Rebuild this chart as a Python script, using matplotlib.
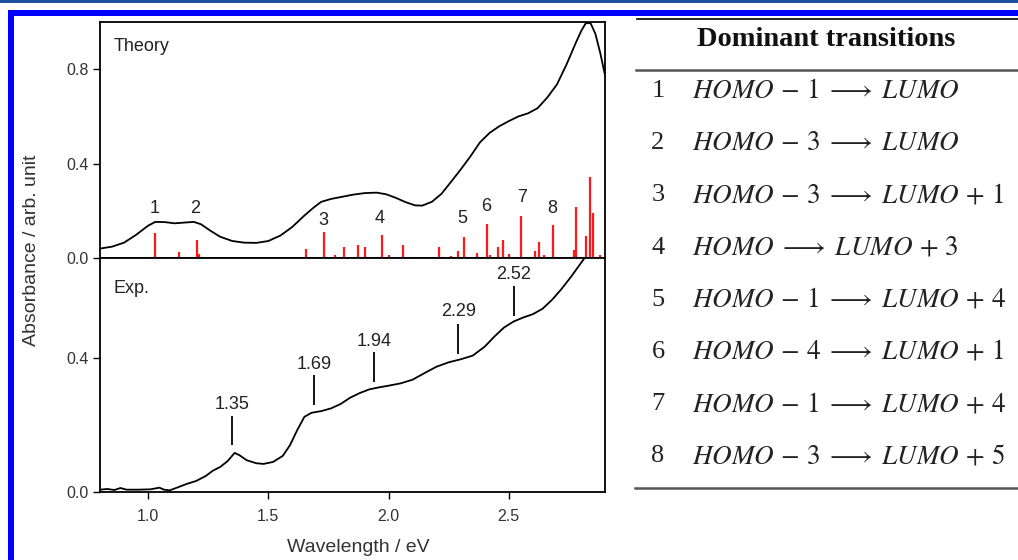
import matplotlib
matplotlib.use("Agg")
import matplotlib.pyplot as plt
from matplotlib.patches import Rectangle
from matplotlib.lines import Line2D

plt.rcParams['font.family'] = ['Liberation Sans', 'DejaVu Sans']
plt.rcParams['mathtext.fontset'] = 'stix'

# ---------------- data ----------------
theory_x = [0.80, 0.85, 0.90, 0.95, 1.00, 1.03, 1.07, 1.11, 1.15, 1.19, 1.22, 1.26, 1.30, 1.35,
            1.40, 1.45, 1.50, 1.55, 1.60, 1.65, 1.69, 1.72, 1.76, 1.80, 1.85, 1.90, 1.95, 1.99,
            2.03, 2.07, 2.11, 2.14, 2.18, 2.22, 2.26, 2.30, 2.34, 2.38, 2.42, 2.46, 2.50, 2.54,
            2.58, 2.62, 2.66, 2.70, 2.74, 2.78, 2.80, 2.82, 2.84, 2.86, 2.88, 2.90]
theory_y = [0.040, 0.048, 0.065, 0.098, 0.137, 0.153, 0.152, 0.147, 0.150, 0.153, 0.143, 0.115,
            0.090, 0.072, 0.065, 0.064, 0.072, 0.095, 0.132, 0.180, 0.215, 0.238, 0.250, 0.258,
            0.268, 0.275, 0.277, 0.270, 0.255, 0.237, 0.223, 0.222, 0.238, 0.272, 0.323, 0.375,
            0.430, 0.490, 0.530, 0.558, 0.580, 0.600, 0.613, 0.635, 0.680, 0.735, 0.820, 0.915,
            0.960, 0.995, 0.995, 0.950, 0.870, 0.775]

stick_x = [1.029, 1.128, 1.202, 1.213, 1.657, 1.733, 1.777, 1.815, 1.872, 1.902, 1.974, 2.002,
           2.061, 2.210, 2.258, 2.289, 2.315, 2.369, 2.410, 2.422, 2.454, 2.477, 2.502, 2.551,
           2.609, 2.627, 2.646, 2.682, 2.771, 2.778, 2.820, 2.839, 2.851, 2.879]
stick_y = [0.108, 0.024, 0.077, 0.017, 0.037, 0.109, 0.011, 0.048, 0.055, 0.045, 0.099, 0.013,
           0.057, 0.045, 0.009, 0.028, 0.089, 0.020, 0.145, 0.011, 0.048, 0.075, 0.017, 0.180,
           0.030, 0.068, 0.013, 0.140, 0.033, 0.218, 0.092, 0.343, 0.190, 0.012]

peak_labels = ['1', '2', '3', '4', '5', '6', '7', '8']
peak_label_x = [1.026, 1.196, 1.729, 1.964, 2.308, 2.408, 2.554, 2.681]
peak_label_y = [0.211, 0.211, 0.159, 0.169, 0.169, 0.218, 0.258, 0.209]

exp_x = [0.80, 0.83, 0.86, 0.885, 0.91, 0.96, 1.01, 1.047, 1.066, 1.09, 1.12, 1.16, 1.20, 1.24,
         1.27, 1.30, 1.33, 1.36, 1.38, 1.41, 1.45, 1.48, 1.52, 1.56, 1.59, 1.62, 1.65, 1.68,
         1.72, 1.76, 1.80, 1.84, 1.88, 1.92, 1.96, 2.00, 2.05, 2.10, 2.15, 2.20, 2.25, 2.30,
         2.35, 2.40, 2.44, 2.48, 2.52, 2.56, 2.60, 2.64, 2.68, 2.72, 2.76, 2.80, 2.83]
exp_y = [0.007, 0.009, 0.006, 0.012, 0.007, 0.007, 0.008, 0.013, 0.007, 0.005, 0.013, 0.024,
         0.033, 0.048, 0.064, 0.075, 0.092, 0.117, 0.110, 0.095, 0.086, 0.084, 0.090, 0.108,
         0.140, 0.185, 0.225, 0.237, 0.242, 0.250, 0.263, 0.282, 0.296, 0.307, 0.313, 0.318,
         0.325, 0.336, 0.356, 0.375, 0.388, 0.397, 0.408, 0.435, 0.465, 0.492, 0.510, 0.522,
         0.532, 0.548, 0.575, 0.608, 0.645, 0.685, 0.715]

exp_marks = [1.35, 1.69, 1.94, 2.29, 2.52]
exp_mark_top = [0.228, 0.349, 0.418, 0.504, 0.616]
exp_mark_bottom = [0.141, 0.259, 0.329, 0.413, 0.527]
exp_mark_text_y = [0.261, 0.381, 0.450, 0.539, 0.650]

table_title = 'Dominant transitions'
table_numbers = ['1', '2', '3', '4', '5', '6', '7', '8']
table_transitions = [r'$HOMO\,-\,1\;\longrightarrow\;LUMO$',
                     r'$HOMO\,-\,3\;\longrightarrow\;LUMO$',
                     r'$HOMO\,-\,3\;\longrightarrow\;LUMO\,+\,1$',
                     r'$HOMO\;\longrightarrow\;LUMO\,+\,3$',
                     r'$HOMO\,-\,1\;\longrightarrow\;LUMO\,+\,4$',
                     r'$HOMO\,-\,4\;\longrightarrow\;LUMO\,+\,1$',
                     r'$HOMO\,-\,1\;\longrightarrow\;LUMO\,+\,4$',
                     r'$HOMO\,-\,3\;\longrightarrow\;LUMO\,+\,5$']

# ---------------- figure ----------------
W, H = 1018, 560
fig = plt.figure(figsize=(W / 100, H / 100), dpi=100)

def fx(px):
    return px / W

def fy(py):
    return 1 - py / H

# decorative frame
fig.patches.append(Rectangle((0, fy(2.5)), 1, 2.5 / H, transform=fig.transFigure,
                             color='#1f4f9f', lw=0, zorder=0))
fig.patches.append(Rectangle((fx(8), fy(15.5)), 1, 5.5 / H, transform=fig.transFigure,
                             color='#0000ff', lw=0, zorder=0))
fig.patches.append(Rectangle((fx(8), 0), 5.5 / W, fy(10), transform=fig.transFigure,
                             color='#0000ff', lw=0, zorder=0))

left, right = fx(100), fx(605)
top, mid, bot = fy(22), fy(258), fy(492)
ax_t = fig.add_axes([left, mid, right - left, top - mid])
ax_e = fig.add_axes([left, bot, right - left, mid - bot])

for ax in (ax_t, ax_e):
    for s in ax.spines.values():
        s.set_linewidth(1.3)
        s.set_color('black')
    ax.set_xlim(0.8, 2.9)
    ax.tick_params(direction='out', length=5, width=1.0, labelsize=11.5,
                   labelcolor='#333333')
    ax.tick_params(axis='y', pad=3)
    ax.tick_params(axis='x', pad=7)

# Theory panel
ax_t.set_ylim(0, 1.0)
ax_t.set_yticks([0.0, 0.4, 0.8])
ax_t.set_yticklabels(['0.0', '0.4', '0.8'])
ax_t.set_xticks([])
ax_t.vlines(stick_x, 0, stick_y, colors='#ff1a1a', linewidth=1.6, zorder=2)
ax_t.plot(theory_x, theory_y, color='black', lw=1.3, zorder=3)
for lab, x, y in zip(peak_labels, peak_label_x, peak_label_y):
    ax_t.text(x, y, lab, ha='center', va='center', fontsize=13, color='#222222')
ax_t.text(0.026, 0.895, 'Theory', transform=ax_t.transAxes, fontsize=13, color='#222222',
          ha='left', va='center')

# Experiment panel
ax_e.set_ylim(0, 0.7)
ax_e.set_yticks([0.0, 0.4])
ax_e.set_yticklabels(['0.0', '0.4'])
ax_e.set_xticks([1.0, 1.5, 2.0, 2.5])
ax_e.set_xticklabels(['1.0', '1.5', '2.0', '2.5'])
ax_e.plot(exp_x, exp_y, color='black', lw=1.3)
ax_e.vlines(exp_marks, exp_mark_bottom, exp_mark_top, colors='black', linewidth=1.3)
for x, y in zip(exp_marks, exp_mark_text_y):
    ax_e.text(x, y, f'{x:.2f}', ha='center', va='center', fontsize=13, color='#222222')
ax_e.text(0.026, 0.87, 'Exp.', transform=ax_e.transAxes, fontsize=13, color='#222222',
          ha='left', va='center')

fig.text(fx(358), fy(548), 'Wavelength / eV', ha='center', va='center', fontsize=14,
         color='#333333')
fig.text(fx(32), fy(250), 'Absorbance / arb. unit', ha='center', va='center', fontsize=14,
         color='#333333', rotation=90)

# Table
fig.add_artist(Line2D([fx(637), 1], [fy(19), fy(19)], color='black', lw=1.2,
                      transform=fig.transFigure))
fig.add_artist(Line2D([fx(636), 1], [fy(70), fy(70)], color='#555555', lw=1.8,
                      transform=fig.transFigure))
fig.add_artist(Line2D([fx(635), 1], [fy(488), fy(488)], color='#555555', lw=1.8,
                      transform=fig.transFigure))
fig.text(fx(826), fy(39), table_title, ha='center', va='center', fontsize=20.5,
         fontweight='bold', family='Liberation Serif', color='#111111')
row_y0, row_dy = 91, 52.2
for i, (n, t) in enumerate(zip(table_numbers, table_transitions)):
    y = row_y0 + i * row_dy
    fig.text(fx(658), fy(y), n, ha='center', va='center', fontsize=19,
             family='Liberation Serif', color='#222222')
    fig.text(fx(692), fy(y), t, ha='left', va='center', fontsize=19.5, color='#222222')

fig.savefig('out.png', dpi=100)
